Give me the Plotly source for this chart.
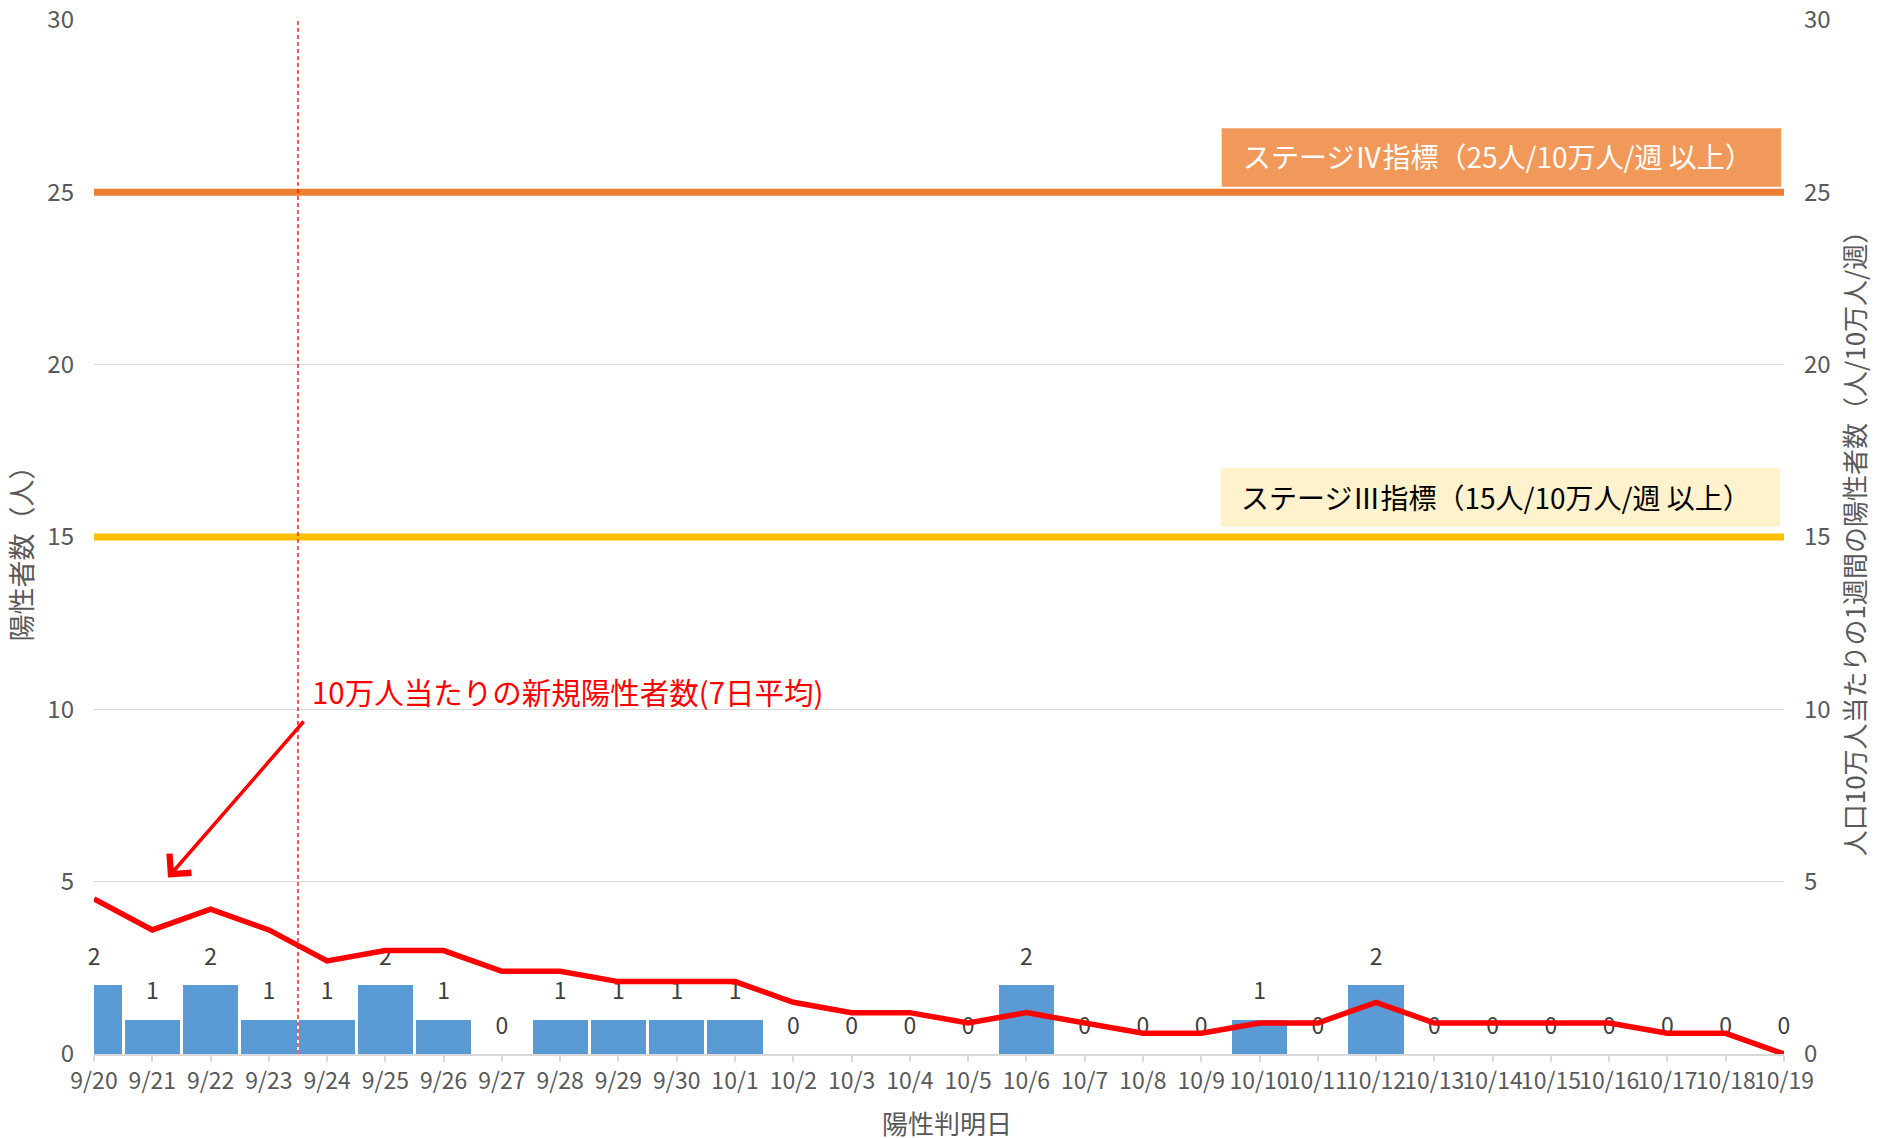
import plotly.graph_objects as go

dates = ["9/20", "9/21", "9/22", "9/23", "9/24", "9/25", "9/26", "9/27", "9/28", "9/29",
         "9/30", "10/1", "10/2", "10/3", "10/4", "10/5", "10/6", "10/7", "10/8", "10/9",
         "10/10", "10/11", "10/12", "10/13", "10/14", "10/15", "10/16", "10/17", "10/18", "10/19"]
daily_cases = [2, 1, 2, 1, 1, 2, 1, 0, 1, 1,
               1, 1, 0, 0, 0, 0, 2, 0, 0, 0,
               1, 0, 2, 0, 0, 0, 0, 0, 0, 0]
per100k_week = [4.5, 3.6, 4.2, 3.6, 2.7, 3.0, 3.0, 2.4, 2.4, 2.1,
                2.1, 2.1, 1.5, 1.2, 1.2, 0.9, 1.2, 0.9, 0.6, 0.6,
                0.9, 0.9, 1.5, 0.9, 0.9, 0.9, 0.9, 0.6, 0.6, 0.0]
stage4 = 25
stage3 = 15
stage4_label = "ステージⅣ指標（25人/10万人/週 以上）"
stage3_label = "ステージⅢ指標（15人/10万人/週 以上）"
line_label = "10万人当たりの新規陽性者数(7日平均)"
x_title = "陽性判明日"
y_title = "陽性者数（人）"
y2_title = "人口10万人当たりの1週間の陽性者数（人/10万人/週）"
y_ticks = [0, 5, 10, 15, 20, 25, 30]

FONT = "Noto Sans CJK JP"
GRAY = "#595959"
GRID = "#D9D9D9"

fig = go.Figure()

fig.add_trace(go.Bar(
    x=dates, y=daily_cases, width=0.95,
    marker=dict(color="#5B9BD5", line=dict(width=0)),
    yaxis="y", hoverinfo="skip",
))

fig.add_trace(go.Scatter(
    x=[dates[0], dates[-1]], y=[stage4, stage4], mode="lines",
    line=dict(color="#ED7D31", width=7), yaxis="y2", hoverinfo="skip",
))
fig.add_trace(go.Scatter(
    x=[dates[0], dates[-1]], y=[stage3, stage3], mode="lines",
    line=dict(color="#FFC000", width=7), yaxis="y2", hoverinfo="skip",
))

fig.add_trace(go.Scatter(
    x=dates, y=per100k_week, mode="lines",
    line=dict(color="#FF0000", width=5.5), yaxis="y2", hoverinfo="skip",
))

fig.add_trace(go.Scatter(
    x=dates, y=daily_cases, mode="text+markers",
    marker=dict(size=22, opacity=0),
    text=[str(v) for v in daily_cases], textposition="top center",
    textfont=dict(family=FONT, size=23, color="#404040"),
    cliponaxis=False, yaxis="y", hoverinfo="skip",
))

shapes = [
    dict(type="rect", xref="x", yref="y2", x0=19.35, x1=28.95,
         y0=stage4 + 0.16, y1=stage4 + 1.86, fillcolor="#F0995A",
         line=dict(width=0), layer="above"),
    dict(type="rect", xref="x", yref="y2", x0=19.33, x1=28.93,
         y0=stage3 + 0.3, y1=stage3 + 2.0, fillcolor="#FFF2CC",
         line=dict(width=0), layer="above"),
    dict(type="line", xref="x", yref="paper", x0=3.5, x1=3.5, y0=0, y1=1,
         line=dict(color="#FF0000", width=1.3, dash="4px,3px"), layer="above"),
]

annotations = [
    dict(xref="x", yref="y2", x=24.1, y=stage4 + 1.05, text=stage4_label,
         showarrow=False, font=dict(family=FONT, size=28, color="white")),
    dict(xref="x", yref="y2", x=24.05, y=stage3 + 1.15, text=stage3_label,
         showarrow=False, font=dict(family=FONT, size=28, color="black")),
    dict(xref="x", yref="y", x=3.7, y=10.52, text=line_label, xanchor="left",
         showarrow=False, font=dict(family=FONT, size=29.5, color="#FF0000")),
    dict(xref="x", yref="y", x=1.27, y=5.12, axref="x", ayref="y", ax=3.62, ay=9.69,
         text="", showarrow=True, arrowhead=4, arrowsize=1.6, arrowwidth=3.5,
         arrowcolor="#FF0000"),
    dict(xref="paper", yref="paper", x=-0.0437, y=0.49, text=y_title, textangle=-90,
         xanchor="center", yanchor="middle", showarrow=False,
         font=dict(family=FONT, size=27, color=GRAY)),
    dict(xref="paper", yref="paper", x=0.505, y=-0.066, text=x_title,
         xanchor="center", yanchor="middle", showarrow=False,
         font=dict(family=FONT, size=26, color=GRAY)),
]

fig.update_layout(
    width=1875, height=1130,
    template="none",
    paper_bgcolor="white", plot_bgcolor="white",
    showlegend=False,
    margin=dict(l=86, r=98.5, t=12, b=84),
    font=dict(family=FONT, color=GRAY),
    shapes=shapes, annotations=annotations,
    bargap=0,
    xaxis=dict(
        type="category", range=[0, len(dates) - 1], tickangle=0,
        tickfont=dict(family=FONT, size=23, color=GRAY),
        ticks="outside", ticklen=6, tickcolor=GRID, tickwidth=1.5,
        showline=True, linecolor=GRID, linewidth=1.5,
        showgrid=False, zeroline=False,
    ),
    yaxis=dict(
        range=[0, 30], tickvals=y_ticks, showgrid=True, gridcolor=GRID, gridwidth=1.2,
        zeroline=False, showline=False, ticks="", ticklabeloverflow="allow",
        tickfont=dict(family=FONT, size=24, color=GRAY), ticklabelstandoff=19,
    ),
    yaxis2=dict(
        range=[0, 30], tickvals=y_ticks, overlaying="y", side="right",
        showgrid=False, zeroline=False, showline=False, ticks="", ticklabeloverflow="allow",
        tickfont=dict(family=FONT, size=24, color=GRAY), ticklabelstandoff=19,
        title=dict(text=y2_title, font=dict(family=FONT, size=26, color=GRAY), standoff=17),
    ),
)

fig.write_html("out.html")
